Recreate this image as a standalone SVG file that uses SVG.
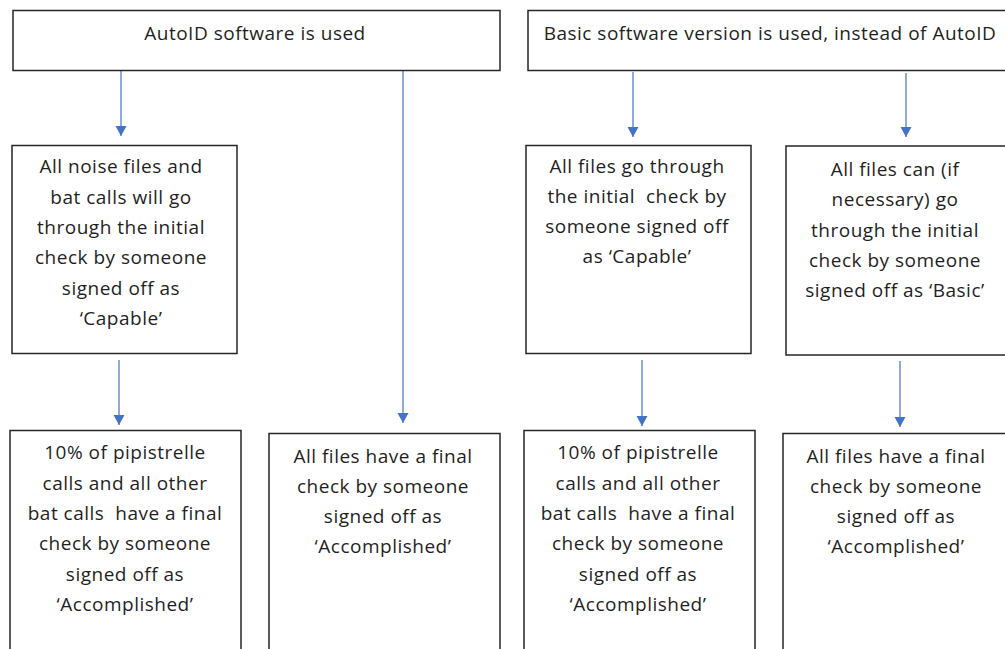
<svg xmlns="http://www.w3.org/2000/svg" width="1005" height="649" viewBox="0 0 1005 649">
  <style>
    .box { fill: #ffffff; stroke: #262626; stroke-width: 1.5; }
    .t { font-family: "Open Sans", "Liberation Sans", sans-serif; font-size: 19px; letter-spacing: 0.5px; fill: #1f1f1f; text-anchor: middle; white-space: pre; }
    .conn { stroke: #4472C4; stroke-width: 1.2; fill: none; marker-end: url(#arrow); }
  </style>
  <defs>
    <marker id="arrow" markerUnits="userSpaceOnUse" markerWidth="12" markerHeight="12" refX="10" refY="6" orient="auto">
      <path d="M0,0.5 L10,6 L0,11.5 Z" fill="#4472C4"/>
    </marker>
  </defs>
  <rect width="1005" height="649" fill="#ffffff"/>

  <g id="connectors">
    <line class="conn" x1="121" y1="71" x2="121" y2="136"/>
    <line class="conn" x1="403" y1="71" x2="403" y2="423"/>
    <line class="conn" x1="119" y1="360" x2="119" y2="425"/>
    <line class="conn" x1="633" y1="72" x2="633" y2="137"/>
    <line class="conn" x1="906" y1="73" x2="906" y2="137"/>
    <line class="conn" x1="642" y1="360" x2="642" y2="426"/>
    <line class="conn" x1="900" y1="361" x2="900" y2="427"/>
  </g>

  <g id="autoid">
    <rect class="box" x="13" y="10.5" width="487" height="60"/>
    <text class="t" x="255" y="40">AutoID software is used</text>
  </g>

  <g id="basic">
    <rect class="box" x="528" y="10.5" width="492" height="60"/>
    <text class="t" x="770" y="40">Basic software version is used, instead of AutoID</text>
  </g>

  <g id="autoid-initial">
    <rect class="box" x="12" y="145.5" width="225" height="208"/>
    <text class="t" x="121" y="173">All noise files and</text>
    <text class="t" x="121" y="204">bat calls will go</text>
    <text class="t" x="121" y="234">through the initial</text>
    <text class="t" x="121" y="264">check by someone</text>
    <text class="t" x="121" y="295">signed off as</text>
    <text class="t" x="121" y="325">‘Capable’</text>
  </g>

  <g id="basic-initial-capable">
    <rect class="box" x="526" y="145.5" width="225" height="208"/>
    <text class="t" x="637" y="173">All files go through</text>
    <text class="t" x="637" y="203" xml:space="preserve">the initial  check by</text>
    <text class="t" x="637" y="233">someone signed off</text>
    <text class="t" x="637" y="263">as ‘Capable’</text>
  </g>

  <g id="basic-initial-basic">
    <rect class="box" x="786" y="146" width="230" height="209"/>
    <text class="t" x="895" y="176">All files can (if</text>
    <text class="t" x="895" y="206">necessary) go</text>
    <text class="t" x="895" y="237">through the initial</text>
    <text class="t" x="895" y="267">check by someone</text>
    <text class="t" x="895" y="297">signed off as ‘Basic’</text>
  </g>

  <g id="autoid-final-partial">
    <rect class="box" x="10" y="430.5" width="231" height="230"/>
    <text class="t" x="125" y="459">10% of pipistrelle</text>
    <text class="t" x="125" y="490">calls and all other</text>
    <text class="t" x="125" y="520" xml:space="preserve">bat calls  have a final</text>
    <text class="t" x="125" y="550">check by someone</text>
    <text class="t" x="125" y="581">signed off as</text>
    <text class="t" x="125" y="611">‘Accomplished’</text>
  </g>

  <g id="autoid-final-all">
    <rect class="box" x="269" y="433.5" width="231" height="230"/>
    <text class="t" x="383" y="463">All files have a final</text>
    <text class="t" x="383" y="493">check by someone</text>
    <text class="t" x="383" y="523">signed off as</text>
    <text class="t" x="383" y="553">‘Accomplished’</text>
  </g>

  <g id="basic-final-partial">
    <rect class="box" x="524" y="430.5" width="231" height="230"/>
    <text class="t" x="638" y="459">10% of pipistrelle</text>
    <text class="t" x="638" y="490">calls and all other</text>
    <text class="t" x="638" y="520" xml:space="preserve">bat calls  have a final</text>
    <text class="t" x="638" y="550">check by someone</text>
    <text class="t" x="638" y="581">signed off as</text>
    <text class="t" x="638" y="611">‘Accomplished’</text>
  </g>

  <g id="basic-final-all">
    <rect class="box" x="783" y="433.5" width="235" height="230"/>
    <text class="t" x="896" y="463">All files have a final</text>
    <text class="t" x="896" y="493">check by someone</text>
    <text class="t" x="896" y="523">signed off as</text>
    <text class="t" x="896" y="553">‘Accomplished’</text>
  </g>
</svg>
